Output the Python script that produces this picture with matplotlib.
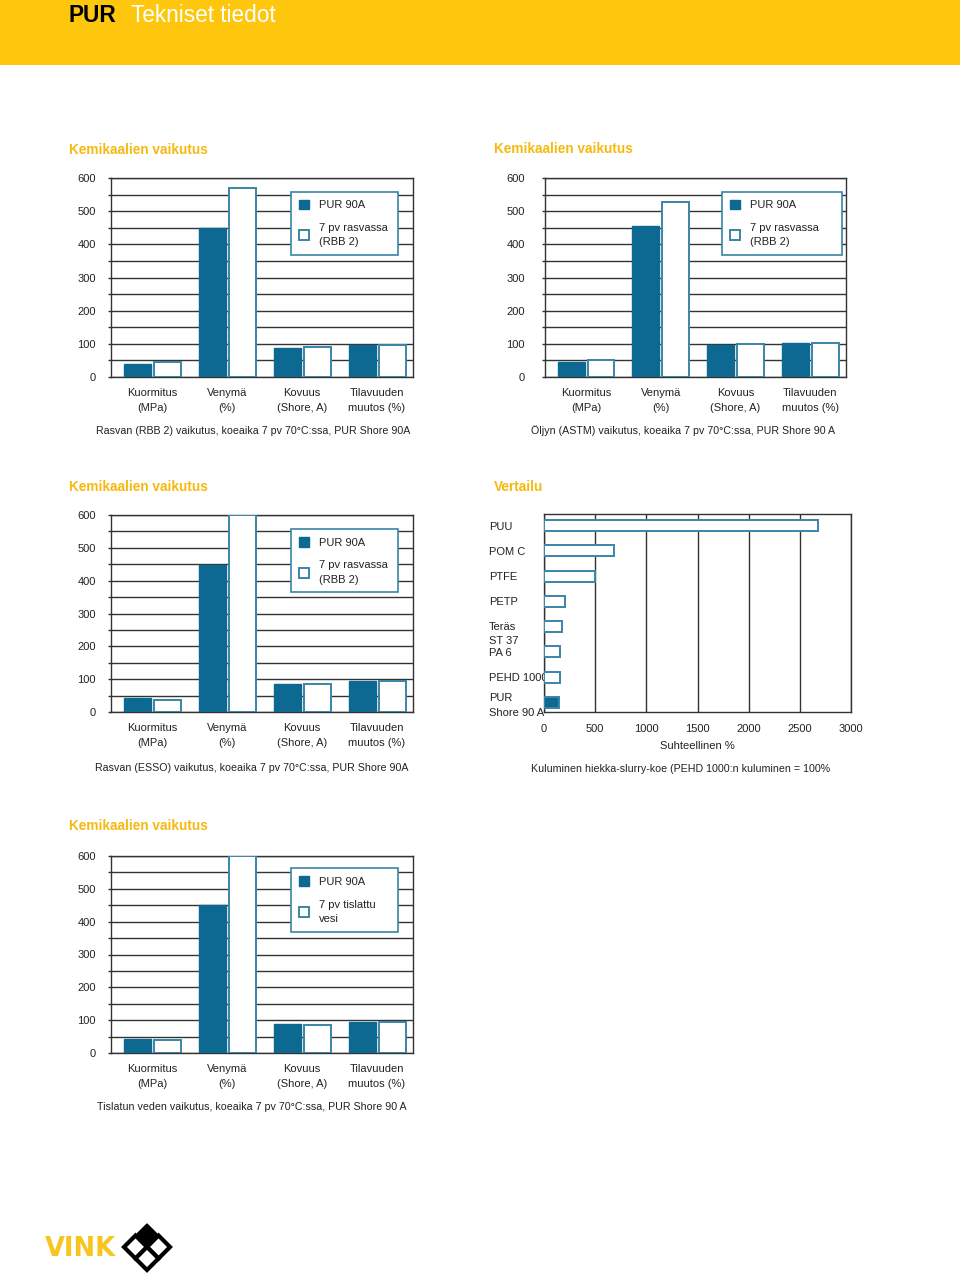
import numpy as np
import matplotlib
matplotlib.use("Agg")
import matplotlib.pyplot as plt
from matplotlib.patches import Rectangle, Polygon
from matplotlib.transforms import ScaledTranslation

plt.rcParams['font.family'] = ['Liberation Sans', 'DejaVu Sans']

# %% data

categories = ["Kuormitus\n(MPa)", "Venymä\n(%)", "Kovuus\n(Shore, A)", "Tilavuuden\nmuutos (%)"]

rbb_pur = [38, 450, 86, 97]
rbb_after = [44, 569, 90, 97]

astm_pur = [45, 454, 97, 102]
astm_after = [50, 528, 100, 104]

esso_pur = [43, 448, 86, 93]
esso_after = [38, 600, 84, 93]

water_pur = [43, 450, 89, 94]
water_after = [40, 600, 86, 94]

materials = ["PUU", "POM C", "PTFE", "PETP", "Teräs\nST 37", "PA 6", "PEHD 1000", "PUR\nShore 90 A"]
wear = [2680, 680, 500, 205, 176, 155, 155, 150]

# %% styles

YELLOW = "#FEC70E"
GOLD = "#F6B90F"
DARK = "#0d6991"
EDGE = "#3a85a6"
GRID = "#333333"
TXT = "#222222"

W, H = 960, 1273
fig = plt.figure(figsize=(9.6, 12.73), dpi=100)


def box(l, t, r, b):
    return [l / W, 1 - b / H, (r - l) / W, (b - t) / H]


page = fig.add_axes([0, 0, 1, 1])
page.set_xlim(0, W)
page.set_ylim(H, 0)
page.axis("off")

# header band
page.add_patch(Rectangle((0, 0), W, 65, color=YELLOW, lw=0))
page.text(69, 21.5, "PUR", fontsize=16.3, weight="bold", va="baseline", color="black")
page.text(131, 21.5, "Tekniset tiedot", fontsize=16.3, va="baseline", color="white")


def chemical_chart(rect, pur, after, after_label, leg_box, label_pad, title_xy, caption, caption_xy):
    ax = fig.add_axes(box(*rect))
    x = np.arange(len(categories))
    ax.bar(x - 0.2, pur, 0.36, color=DARK, edgecolor=DARK, lw=1, label="PUR 90A", zorder=3)
    ax.bar(x + 0.2, after, 0.36, color="white", edgecolor=EDGE, lw=1.4, label=after_label, zorder=3)
    ax.set_xlim(-0.55, 3.48)
    ax.set_ylim(0, 600)
    ax.set_yticks(range(0, 601, 100))
    ax.set_yticks(range(50, 600, 100), minor=True)
    ax.grid(axis="y", which="both", color=GRID, lw=1, zorder=0)
    ax.set_xticks(x, categories, fontsize=8, color=TXT, linespacing=1.55)
    ax.tick_params(axis="x", length=0, pad=8)
    ax.tick_params(axis="y", which="both", length=2.5, width=1, color=GRID, pad=label_pad,
                   labelsize=8, labelcolor=TXT)
    for s in ax.spines.values():
        s.set_color(GRID)
        s.set_linewidth(1)
    leg = ax.legend(loc="upper left", bbox_to_anchor=leg_box, mode="expand", borderaxespad=0,
                    fontsize=8, handlelength=0.9, handleheight=1.0, handletextpad=0.9,
                    borderpad=0.7, labelspacing=1.15, fancybox=False, framealpha=1)
    leg.get_frame().set_edgecolor(EDGE)
    leg.get_frame().set_linewidth(1.2)
    for t in leg.get_texts():
        t.set_color(TXT)
        t.set_linespacing(1.55)
    page.text(*title_xy, "Kemikaalien vaikutus", fontsize=9.8, weight="bold", color=GOLD, va="center")
    page.text(*caption_xy, caption, fontsize=7.7, color=TXT, ha="center", va="center")
    return ax


chemical_chart((111, 178, 413, 377), rbb_pur, rbb_after, "7 pv rasvassa\n(RBB 2)",
               (0.596, 0.3, 0.354, 0.631), 8.5, (69, 150),
               "Rasvan (RBB 2) vaikutus, koeaika 7 pv 70°C:ssa, PUR Shore 90A", (253, 431))

chemical_chart((545, 178, 846, 377), astm_pur, astm_after, "7 pv rasvassa\n(RBB 2)",
               (0.589, 0.3, 0.397, 0.631), 12, (494, 149),
               "Öljyn (ASTM) vaikutus, koeaika 7 pv 70°C:ssa, PUR Shore 90 A", (683, 431))

chemical_chart((111, 515, 413, 712), esso_pur, esso_after, "7 pv rasvassa\n(RBB 2)",
               (0.596, 0.3, 0.354, 0.629), 8.5, (69, 487),
               "Rasvan (ESSO) vaikutus, koeaika 7 pv 70°C:ssa, PUR Shore 90A", (252, 768))

chemical_chart((111, 856, 413, 1053), water_pur, water_after, "7 pv tislattu\nvesi",
               (0.596, 0.3, 0.354, 0.6375), 8.5, (69, 826),
               "Tislatun veden vaikutus, koeaika 7 pv 70°C:ssa, PUR Shore 90 A", (252, 1107))

# %% wear comparison

axw = fig.add_axes(box(544, 514, 851, 712))
ypos = np.arange(len(materials))
colors = ["white"] * (len(materials) - 1) + [DARK]
axw.barh(ypos, wear, 0.44, color=colors, edgecolor=EDGE, lw=1.4, zorder=3)
axw.set_xlim(0, 3000)
axw.set_ylim(7.38, -0.46)
axw.set_xticks(range(0, 3001, 500))
axw.grid(axis="x", color=GRID, lw=1, zorder=0)
axw.tick_params(axis="x", length=0, pad=8.5, labelsize=8, labelcolor=TXT)
axw.set_yticks(ypos, materials)
axw.tick_params(axis="y", length=0, pad=39.5, labelsize=8, labelcolor=TXT)
for t in axw.get_yticklabels():
    t.set_ha("left")
    t.set_linespacing(1.55)
# the "Teräs / ST 37" label sits a little below its bar in the original
teras = axw.get_yticklabels()[4]
teras.set_transform(teras.get_transform() + ScaledTranslation(0, -4 / 100, fig.dpi_scale_trans))
for s in axw.spines.values():
    s.set_color(GRID)
    s.set_linewidth(1)
axw.set_xlabel("Suhteellinen %", fontsize=8, color=TXT, labelpad=5)
page.text(494, 487, "Vertailu", fontsize=9.8, weight="bold", color=GOLD, va="center")
page.text(681, 769, "Kuluminen hiekka-slurry-koe (PEHD 1000:n kuluminen = 100%",
          fontsize=7.7, color=TXT, ha="center", va="center")

# %% logo

page.text(45, 1256, "VINK", fontsize=18.5, weight="bold", family="DejaVu Sans",
          color="#F7C51E", va="baseline")
cx, cy, d = 147, 1247, 11.5
for (dx, dy) in [(-1, 0), (1, 0), (0, 1)]:
    x0, y0 = cx + dx * d, cy + dy * d
    page.add_patch(Polygon([(x0, y0 - d), (x0 + d, y0), (x0, y0 + d), (x0 - d, y0)],
                           closed=True, facecolor="white", edgecolor="black", lw=3))
x0, y0 = cx, cy - d - 1.5
dd = d - 1.5
page.add_patch(Polygon([(x0, y0 - dd), (x0 + dd, y0), (x0, y0 + dd), (x0 - dd, y0)],
                       closed=True, facecolor="black", edgecolor="black", lw=1))

fig.savefig("out.png", dpi=100)
